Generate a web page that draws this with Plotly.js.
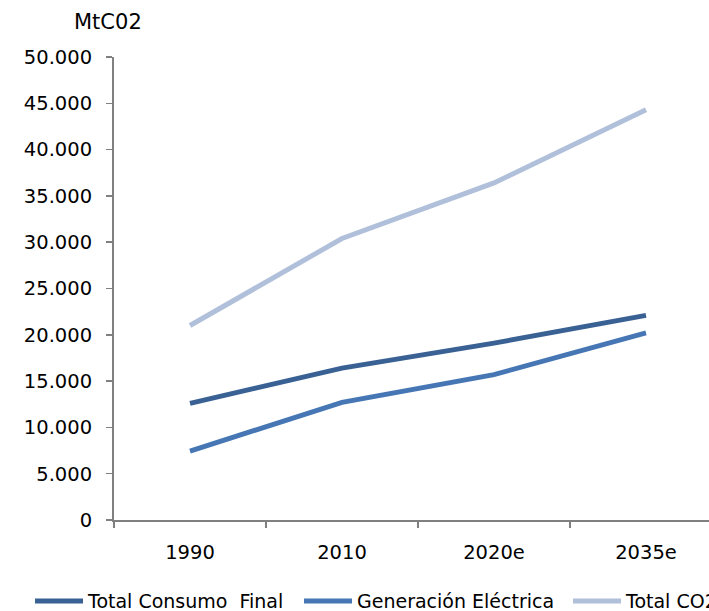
<!DOCTYPE html>
<html>
<head>
<meta charset="utf-8">
<script src="https://cdn.plot.ly/plotly-3.0.1.min.js"></script>
<style>
html, body { margin: 0; padding: 0; overflow: hidden; background: #fff; width: 709px; height: 611px; }
#chart { width: 1100px; height: 611px; }
</style>
</head>
<body>
<div id="chart"></div>
<script>
const categories = ["1990", "2010", "2020e", "2035e"];
const consumoFinal = [12600, 16400, 19100, 22100];
const generacionElectrica = [7450, 12700, 15700, 20200];
const totalCO2 = [21000, 30400, 36400, 44300];
const seriesNames = ["Total Consumo  Final", "Generación Eléctrica", "Total CO2"];
const yTicks = [0, 5000, 10000, 15000, 20000, 25000, 30000, 35000, 40000, 45000, 50000];

const font = "DejaVu Sans, sans-serif";
const mk = (y, name, color) => ({
  x: categories, y: y, name: name, type: "scatter", mode: "lines",
  line: { color: color, width: 5 }, hoverinfo: "skip"
});

const data = [
  mk(consumoFinal, seriesNames[0], "#3A6194"),
  mk(generacionElectrica, seriesNames[1], "#4677B4"),
  mk(totalCO2, seriesNames[2], "#B0C0DA")
];

// category pitch 152 px; the chart is wider than the window and is clipped on the right
const W = 1100;
const xRange = [-0.5, 5.0];
const plotW = 152 * (xRange[1] - xRange[0]);
const layout = {
  width: W, height: 611,
  margin: { l: 114, r: W - 114 - plotW, t: 57, b: 91, autoexpand: false },
  paper_bgcolor: "#fff", plot_bgcolor: "#fff",
  separators: ",.",
  font: { family: font, size: 18, color: "#000" },
  showlegend: true,
  legend: {
    orientation: "h", xref: "container", yref: "paper",
    x: 30 / W, y: -0.134, xanchor: "left", yanchor: "top",
    entrywidth: 206, entrywidthmode: "pixels", itemwidth: 48,
    bgcolor: "rgba(0,0,0,0)",
    font: { family: font, size: 19, color: "#000" },
    tracegroupgap: 0
  },
  xaxis: {
    type: "category", range: xRange,
    showline: true, linecolor: "#808080", linewidth: 2,
    ticks: "outside", tickson: "boundaries", ticklen: 6, tickcolor: "#808080", tickwidth: 1.5,
    ticklabelstandoff: 14,
    showgrid: false, zeroline: false, fixedrange: true,
    tickfont: { family: font, size: 19.5, color: "#000" }
  },
  yaxis: {
    range: [0, 50000], tickvals: yTicks, tickformat: ",d",
    showline: true, linecolor: "#808080", linewidth: 2,
    ticks: "outside", ticklen: 6, tickcolor: "#808080", tickwidth: 1.5,
    ticklabelstandoff: 10,
    showgrid: false, zeroline: false, fixedrange: true,
    tickfont: { family: font, size: 19.5, color: "#000" }
  },
  annotations: [{
    text: "MtC02", xref: "paper", yref: "paper", x: -42 / plotW, y: 1,
    xanchor: "left", yanchor: "middle", yshift: 35, showarrow: false,
    font: { family: font, size: 21, color: "#000" }
  }]
};

Plotly.newPlot("chart", data, layout, { displayModeBar: false, staticPlot: true });
</script>
</body>
</html>
